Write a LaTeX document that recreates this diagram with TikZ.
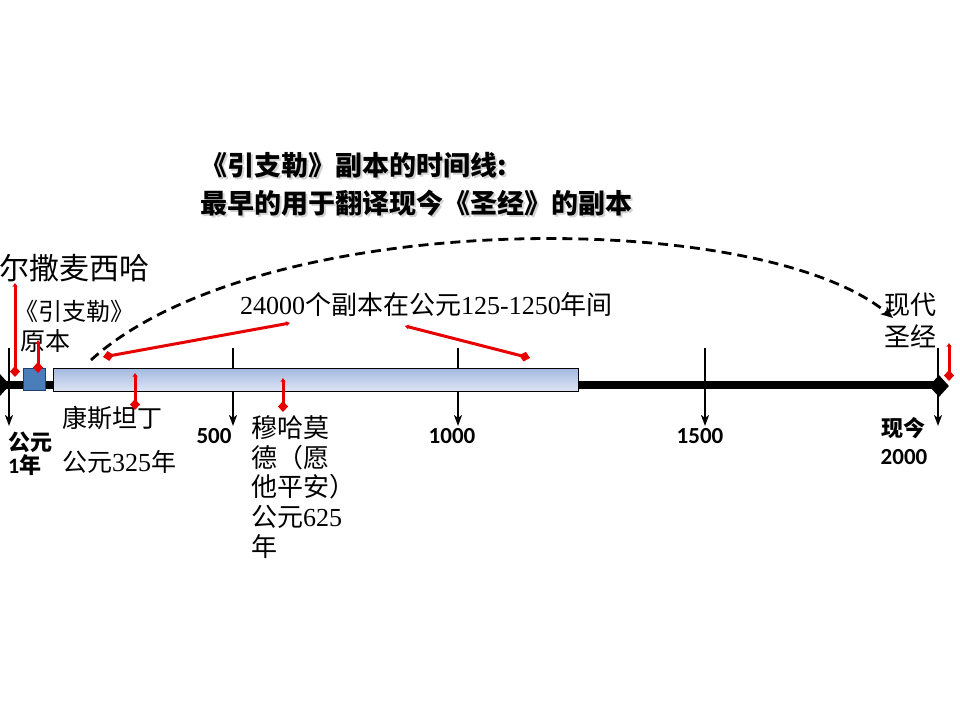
\documentclass[tikz,border=0pt]{standalone}
\usepackage{fontspec}
\setmainfont{Liberation Serif}
\newfontfamily\cjk{Noto Sans CJK SC}
\newfontfamily\calb{Carlito}
\usetikzlibrary{arrows.meta,shapes.geometric}
\definecolor{redl}{HTML}{E60000}
\definecolor{barTop}{HTML}{A3B8DF}
\definecolor{barBot}{HTML}{DDE5F4}
\definecolor{sqFill}{HTML}{4A7EBB}
\definecolor{sqLine}{HTML}{1F3F6E}
\begin{document}
\begin{tikzpicture}[x=1pt,y=-1pt,
  tl/.style={line width=8pt},
  tickline/.style={line width=2.5pt,-{Stealth[length=11pt,width=8pt,inset=3pt]}},
  redcon/.style={draw=redl,line width=3pt,{Stealth[length=4pt,width=5pt]}-{Diamond[length=11pt,width=10pt]}},
  arcline/.style={line width=2.8pt,dash pattern=on 10pt off 6pt,-{Stealth[length=12pt,width=10pt,inset=3pt]}},
  lbl/.style={inner sep=0pt,anchor=west},
  ctr/.style={inner sep=0pt,anchor=center},
  cj/.style={font=\cjk\fontsize{#1}{#1}\selectfont},
  yr/.style={inner sep=0pt,font=\calb\bfseries\fontsize{23}{23}\selectfont},
  cjb/.style={inner sep=0pt,font=\cjk\bfseries\fontsize{22}{22}\selectfont},
  ttl/.style={inner sep=0pt,anchor=west,font=\cjk\bfseries\fontsize{27}{27}\selectfont}
]
\useasboundingbox (0,0) rectangle (960,720);

% title (soft shadow drawn as a faint offset copy)
\begin{scope}[opacity=0.35]
\node[ttl,text=black!50] at (202,167) {《引支勒》副本的时间线\textbf{:}};
\node[ttl,text=black!50] at (202,205) {最早的用于翻译现今《圣经》的副本};
\end{scope}
\node[ttl] (title1) at (200,165) {《引支勒》副本的时间线\textbf{:}};
\node[ttl] (title2) at (200,203) {最早的用于翻译现今《圣经》的副本};

% timeline
\coordinate (L) at (0,385);
\coordinate (R) at (938,385);
\draw[tl] (L) -- (R);
\node[diamond,fill=black,minimum width=20pt,minimum height=22pt,inner sep=0pt] (startdia) at (0,385) {};
\node[diamond,fill=black,minimum width=20pt,minimum height=22pt,inner sep=0pt] (enddia) at (939,386) {};

% ticks
\foreach \n/\x in {t0/9,t500/233,t1000/458,t1500/705,t2000/938}{
  \coordinate (\n top) at (\x,348);
  \coordinate (\n bot) at (\x,426);
  \draw[tickline] (\n top) -- (\n bot);
}

% bars
\node[draw=sqLine,line width=1pt,fill=sqFill,minimum width=22pt,minimum height=22pt,inner sep=0pt] (origbox) at (34,379) {};
\node[draw=black,line width=1pt,top color=barTop,bottom color=barBot,minimum width=525pt,minimum height=23pt,inner sep=0pt] (copybar) at (315.5,379.5) {};

% labels
\node[lbl,cj=30] (messiah) at (-1,268) {尔撒麦西哈};
\node[lbl,cj=24] (injil) at (14,311) {《引支勒》};
\node[lbl,cj=25] (orig) at (20,341) {原本};
\node[lbl,font=\fontsize{26}{26}\selectfont] (copies) at (240,305) {24000{\cjk 个副本在公元}125-1250{\cjk 年间}};
\node[lbl,cj=25] (const1) at (62,418) {康斯坦丁};
\node[lbl,font=\fontsize{26}{26}\selectfont] (const2) at (62,462) {{\cjk\fontsize{25}{25}\selectfont 公元}325{\cjk\fontsize{25}{25}\selectfont 年}};
\node[lbl,cj=26] (mh1) at (251,428) {穆哈莫};
\node[lbl,cj=26] (mh2) at (251,458) {德（愿};
\node[lbl,cj=26] (mh3) at (251,487) {他平安）};
\node[lbl,font=\fontsize{26}{26}\selectfont] (mh4) at (251,517) {{\cjk 公元}625};
\node[lbl,cj=26] (mh5) at (251,547) {年};
\node[ctr,cj=26] (modern1) at (910,305) {现代};
\node[ctr,cj=26] (modern2) at (910,336) {圣经};

\node[cjb,anchor=west] (ad1a) at (8,442) {公元};
\node[inner sep=0pt,anchor=west] (ad1b) at (8,465) {{\calb\bfseries\fontsize{22}{22}\selectfont 1}{\cjk\bfseries\fontsize{22}{22}\selectfont 年}};
\node[yr] (y500) at (214,436) {500};
\node[yr] (y1000) at (452,436) {1000};
\node[yr] (y1500) at (700,436) {1500};
\node[cjb] (now1) at (903,428) {现今};
\node[yr] (now2) at (904,457) {2000};

% red connectors
\coordinate (r1a) at (15,283);  \coordinate (r1b) at (15,377);
\coordinate (r2a) at (38,340);  \coordinate (r2b) at (38,373);
\coordinate (r3a) at (290,323); \coordinate (r3b) at (103,357);
\coordinate (r4a) at (405,326); \coordinate (r4b) at (530,358);
\coordinate (r5a) at (135,373); \coordinate (r5b) at (135,410);
\coordinate (r6a) at (283,378); \coordinate (r6b) at (283,412);
\coordinate (r7a) at (949,343); \coordinate (r7b) at (949,381);
\foreach \i in {1,...,7}{\draw[redcon] (r\i a) -- (r\i b);}

% dashed arc
\coordinate (arcA) at (91,360);
\coordinate (arcB) at (893,318);
\draw[arcline] (arcA) .. controls (260,207) and (760,207) .. (arcB);
\end{tikzpicture}
\end{document}
